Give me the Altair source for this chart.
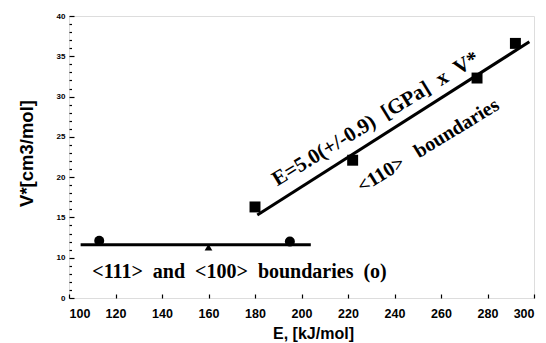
import altair as alt
import pandas as pd

# <110> boundaries (filled squares)
sq_E = [180, 222, 275.5, 292]
sq_V = [16.3, 22.1, 32.3, 36.6]
# <111> boundaries (circles) and <100> boundary (triangle)
circ_E = [113, 195]
circ_V = [12.1, 12.0]
tri_E = [160]
tri_V = [11.3]
# fitted lines
fit110_E = [181, 298]
fit110_V = [15.3, 36.8]
fit111_E = [105, 204]
fit111_V = [11.6, 11.6]

x_ticks = list(range(100, 301, 20))
y_ticks = list(range(5, 41, 5))   # lowest label reads "0" in the reference
y_minor = list(range(5, 41))

S = "\u00a0"
txt_fit = "E=5.0(+/-0.9)" + S * 2 + "[GPa]" + S * 2 + "x" + S * 2 + "V*"
txt_110 = "<110>" + S * 3 + "boundaries"
txt_111 = "<111>" + S * 2 + "and" + S * 2 + "<100>" + S * 2 + "boundaries" + S * 2 + "(o)"

xs = alt.Scale(domain=[100, 300], nice=False, zero=False)
ys = alt.Scale(domain=[5, 40], nice=False, zero=False)

W, H = 465, 282

line111 = alt.Chart(pd.DataFrame({"E": fit111_E, "V": fit111_V})).mark_line(
    color="black", strokeWidth=3
).encode(
    x=alt.X("E:Q", scale=xs, axis=alt.Axis(
        values=x_ticks, ticks=False, domain=False, grid=False,
        labelFont="Liberation Sans", labelFontWeight="bold", labelFontSize=12.5,
        labelPadding=9, labelColor="black",
        title="E, [kJ/mol]", titleFont="Liberation Sans", titleFontWeight="bold",
        titleFontSize=16, titleColor="black", titleX=244, titleY=35,
        titleBaseline="middle", titleAlign="center")),
    y=alt.Y("V:Q", scale=ys, axis=alt.Axis(
        values=y_ticks, ticks=False, domain=False, grid=False,
        labelExpr="datum.value == 5 ? '0' : datum.label",
        labelFont="Liberation Sans", labelFontWeight="bold", labelFontSize=8,
        labelPadding=4, labelColor="black",
        title="V*[cm3/mol]", titleFont="Liberation Sans", titleFontWeight="bold",
        titleFontSize=18.5, titleColor="black", titleX=-43, titleY=137,
        titleAngle=-90, titleBaseline="middle", titleAlign="center")),
)

line110 = alt.Chart(pd.DataFrame({"E": fit110_E, "V": fit110_V})).mark_line(
    color="black", strokeWidth=3
).encode(
    x=alt.X("E:Q", scale=xs, axis=None),
    y=alt.Y("V:Q", scale=ys, axis=None),
)

squares = alt.Chart(pd.DataFrame({"E": sq_E, "V": sq_V})).mark_point(
    shape="square", filled=True, color="black", opacity=1, size=120
).encode(
    x=alt.X("E:Q", scale=xs, axis=alt.Axis(
        orient="top", offset=-H, values=x_ticks, labels=False, domain=False,
        grid=False, ticks=True, tickSize=4, tickWidth=1.2, tickColor="black",
        title=None)),
    y=alt.Y("V:Q", scale=ys, axis=alt.Axis(
        orient="right", offset=-W, values=y_minor, labels=False, domain=False,
        grid=False, ticks=True,
        tickSize={"condition": {"test": "datum.value % 5 === 0", "value": 5}, "value": 2.5},
        tickWidth=1.2, tickColor="black", title=None)),
)

circles = alt.Chart(pd.DataFrame({"E": circ_E, "V": circ_V})).mark_point(
    shape="circle", filled=True, color="black", opacity=1, size=100
).encode(
    x=alt.X("E:Q", scale=xs, axis=None),
    y=alt.Y("V:Q", scale=ys, axis=None),
)

tris = alt.Chart(pd.DataFrame({"E": tri_E, "V": tri_V})).mark_point(
    shape="triangle-up", filled=True, color="black", opacity=1, size=60
).encode(
    x=alt.X("E:Q", scale=xs, axis=None),
    y=alt.Y("V:Q", scale=ys, axis=None),
)

def label(text, e, v, angle, size, align):
    return alt.Chart(pd.DataFrame({"E": [e], "V": [v], "t": [text]})).mark_text(
        font="Liberation Serif", fontWeight="bold", fontSize=size, color="black",
        angle=angle, align=align, baseline="middle"
    ).encode(
        x=alt.X("E:Q", scale=xs, axis=None),
        y=alt.Y("V:Q", scale=ys, axis=None),
        text="t:N",
    )

t1 = label(txt_fit, 232, 27.2, 328.5, 21, "center")
t2 = label(txt_110, 254.5, 23.9, 328.5, 20, "center")
t3 = label(txt_111, 110, 8.2, 0, 20, "left")

chart = alt.layer(line111, squares, line110, circles, tris, t1, t2, t3).resolve_axis(
    x="independent", y="independent"
).properties(
    width=W, height=H,
    autosize=alt.AutoSizeParams(type="none"),
    padding={"left": 61, "top": 8, "right": 4, "bottom": 45},
).configure_view(
    stroke="black", strokeWidth=1.5
).configure(background="white")

chart.save("out.html", embed_options={"renderer": "svg", "actions": False})
